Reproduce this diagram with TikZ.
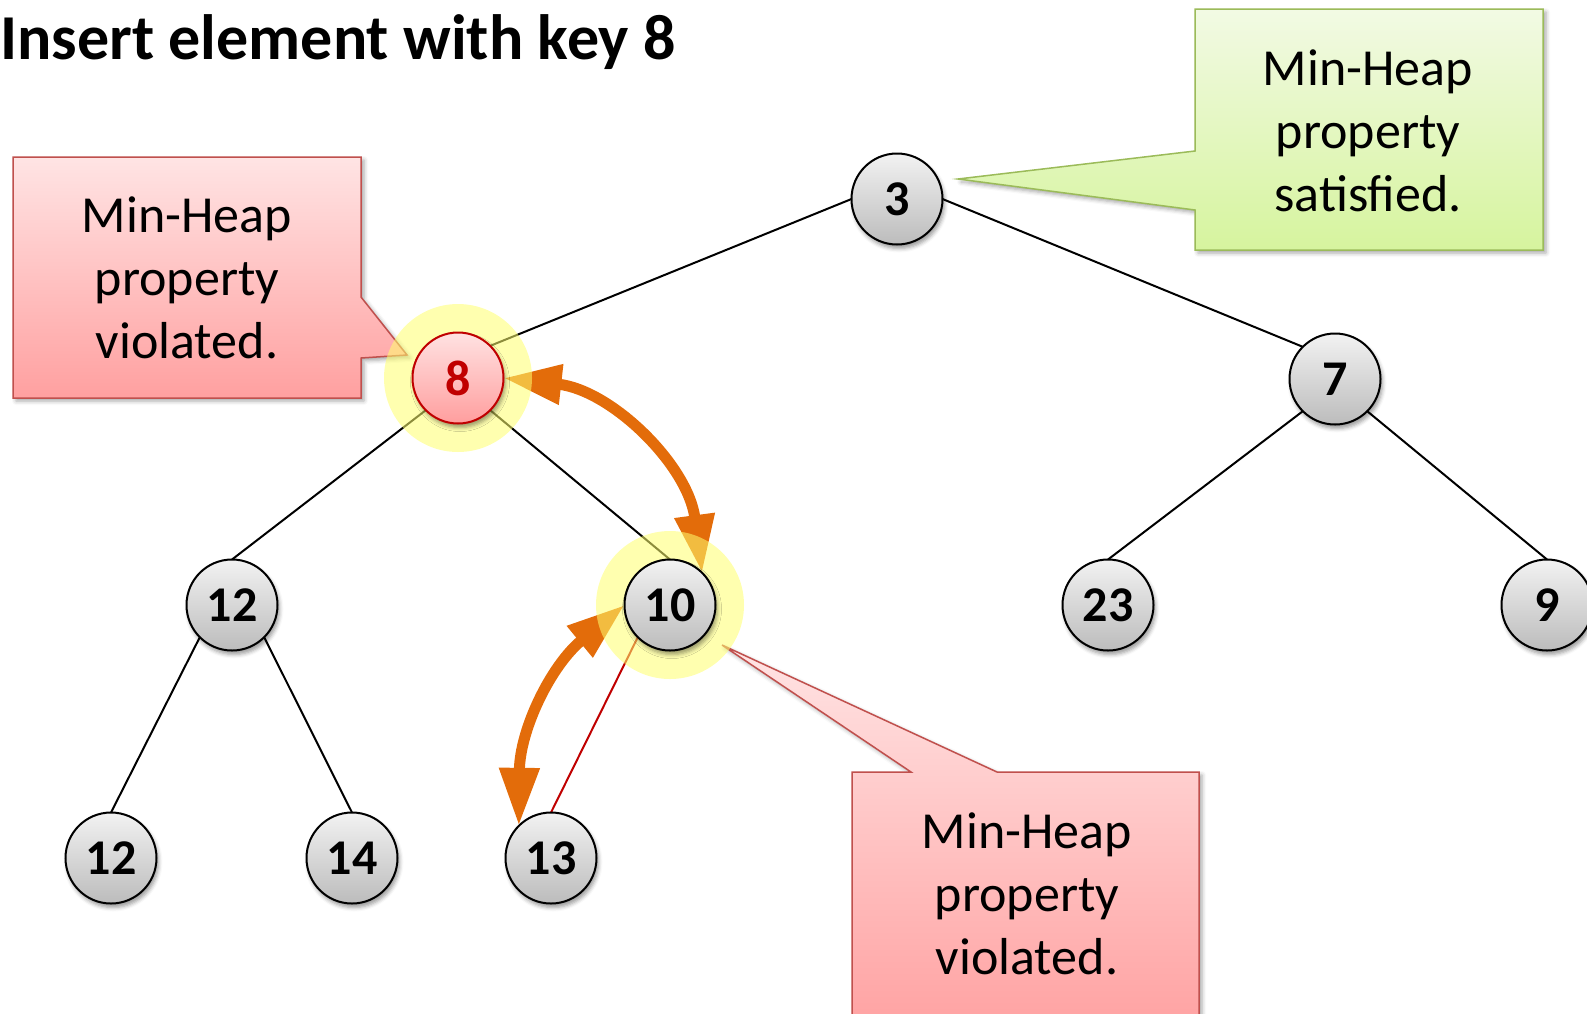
\documentclass[tikz,border=0pt]{standalone}
\usepackage{fontspec}
\setmainfont{Carlito}
\usetikzlibrary{arrows.meta,shadows.blur}

\definecolor{swaporange}{RGB}{227,108,10}
\definecolor{nodetop}{RGB}{242,242,242}
\definecolor{nodebot}{RGB}{188,188,188}
\definecolor{hotred}{RGB}{192,0,0}
\definecolor{hottop}{RGB}{255,226,226}
\definecolor{hotbot}{RGB}{255,158,158}
\definecolor{redborder}{RGB}{192,80,77}
\definecolor{redtop}{RGB}{255,228,228}
\definecolor{redbot}{RGB}{255,160,160}
\definecolor{greenborder}{RGB}{155,187,89}
\definecolor{greentop}{RGB}{242,250,228}
\definecolor{greenbot}{RGB}{214,244,158}
\definecolor{glow}{RGB}{255,255,110}

\pgfdeclarelayer{under}
\pgfdeclarelayer{glowlayer}
\pgfsetlayers{under,glowlayer,main}

\begin{document}
\begin{tikzpicture}[x=1pt,y=1pt,
  heapnode/.style={circle, minimum size=91pt, inner sep=0pt, outer sep=0pt,
    draw=black, line width=2pt, top color=nodetop, bottom color=nodebot,
    font=\fontsize{50}{56}\selectfont\bfseries,
    blur shadow={shadow xshift=2pt, shadow yshift=-4pt, shadow blur radius=4pt, shadow opacity=40}},
  hotnode/.style={heapnode, draw=hotred, top color=hottop, bottom color=hotbot, text=hotred},
  treeedge/.style={draw=black, line width=2pt},
  hotedge/.style={draw=hotred, line width=2pt},
  swaparrow/.style={draw=swaporange, line width=11pt,
    arrows={Triangle[length=58pt,width=38pt]-Triangle[length=58pt,width=38pt]}},
  glowring/.style={fill=glow, fill opacity=0.55},
  redcallout/.style={draw=redborder, line width=1.5pt, top color=redtop, bottom color=redbot,
    blur shadow={shadow xshift=3pt, shadow yshift=-3pt, shadow blur radius=4pt, shadow opacity=35}},
  greencallout/.style={draw=greenborder, line width=1.5pt, top color=greentop, bottom color=greenbot,
    blur shadow={shadow xshift=3pt, shadow yshift=-3pt, shadow blur radius=4pt, shadow opacity=35}},
  callouttext/.style={align=center, inner sep=0pt, font=\fontsize{52}{63}\selectfont},
]
\useasboundingbox (0,0) rectangle (1587,-1013);

% title
\node[anchor=base west, inner sep=0pt, font=\fontsize{64}{70}\selectfont\bfseries] (title) at (0,-59) {Insert element with key 8};

% heap nodes
\node[heapnode] (n3)  at (897,-199) {3};
\node[hotnode]  (n8)  at (458,-378) {8};
\node[heapnode] (n7)  at (1335,-379) {7};
\node[heapnode] (n12) at (232,-605) {12};
\node[heapnode] (n10) at (670,-605) {10};
\node[heapnode] (n23) at (1108,-605) {23};
\node[heapnode] (n9)  at (1547,-605) {9};
\node[heapnode] (n12b) at (111,-858) {12};
\node[heapnode] (n14) at (352,-858) {14};
\node[heapnode] (n13) at (551,-858) {13};

\begin{pgfonlayer}{under}
  % callout boxes
  \path[redcallout] (13,-157) -- (361,-157) -- (361,-297) -- (407,-355) -- (361,-358)
    -- (361,-398) -- (13,-398) -- cycle;
  \path[greencallout] (1195,-9) -- (1543,-9) -- (1543,-250) -- (1195,-250) -- (1195,-210)
    -- (958,-179) -- (1195,-151) -- cycle;
  \path[redcallout] (852,-772) -- (911,-772) -- (722,-645) -- (997,-772) -- (1199,-772)
    -- (1199,-1040) -- (852,-1040) -- cycle;

  % tree edges
  \draw[treeedge] (n3.west) -- (n8.north east);
  \draw[treeedge] (n3.east) -- (n7.north west);
  \draw[treeedge] (n8.south west) -- (n12.north);
  \draw[treeedge] (n8.south east) -- (n10.north);
  \draw[treeedge] (n7.south west) -- (n23.north);
  \draw[treeedge] (n7.south east) -- (n9.north);
  \draw[treeedge] (n12.south west) -- (n12b.north);
  \draw[treeedge] (n12.south east) -- (n14.north);
  \draw[hotedge] (n10.south west) -- (n13.north);

  % swap arrows
  \draw[swaparrow] (n8.east) to[bend left=38] (n10.north east);
  \draw[swaparrow] (n10.west) to[bend right=25] (n13.north west);
\end{pgfonlayer}

\begin{pgfonlayer}{glowlayer}
  \fill[glowring] (n8.center) circle (74pt);
  \fill[glowring] (n10.center) circle (74pt);
\end{pgfonlayer}

% callout texts
\node[callouttext] (lblleft) at (187,-278) {Min-Heap\\property\\violated.};
\node[callouttext] (lblgreen) at (1368,-131) {Min-Heap\\property\\satisfied.};
\node[callouttext] (lblbottom) at (1027,-894) {Min-Heap\\property\\violated.};
\end{tikzpicture}
\end{document}
